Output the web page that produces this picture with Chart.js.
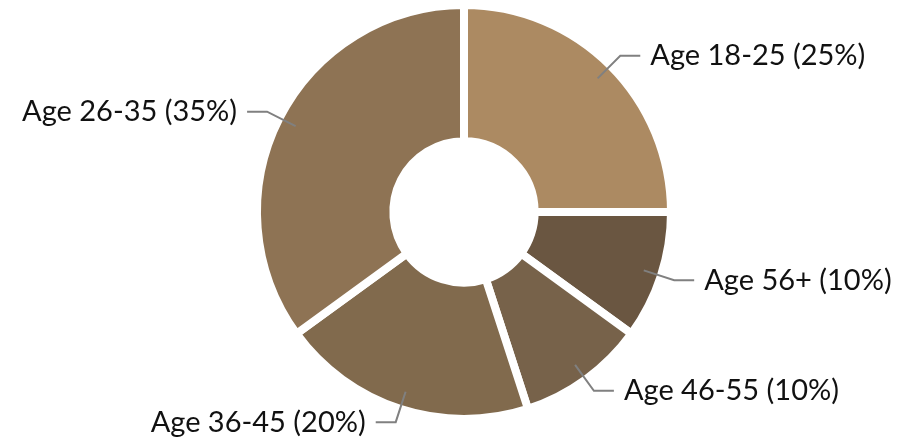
<!DOCTYPE html>
<html lang="en">

<head>
    <meta charset="UTF-8">
    <title>Age Distribution</title>
    <script src="https://cdn.jsdelivr.net/npm/chart.js"></script>
    <style>
        html, body {
            margin: 0;
            padding: 0;
            background: #ffffff;
        }

        #chart-container {
            width: 897px;
            height: 441px;
        }
    </style>
</head>

<body>
    <div id="chart-container">
        <canvas id="ageChart"></canvas>
    </div>

    <script>
        // Data
        const ageGroups = ['Age 18-25', 'Age 56+', 'Age 46-55', 'Age 36-45', 'Age 26-35'];
        const shares = [25, 10, 10, 20, 35];
        const sliceColors = ['#ac8a62', '#6a5641', '#77624a', '#816a4d', '#8e7354'];

        // Draws the leader lines and labels outside the ring
        const outsideLabels = {
            id: 'outsideLabels',
            afterDatasetsDraw(chart) {
                const ctx = chart.ctx;
                const meta = chart.getDatasetMeta(0);
                ctx.save();
                ctx.font = '29px Lato';
                ctx.textBaseline = 'middle';
                meta.data.forEach((arc, i) => {
                    const { x, y, startAngle, endAngle, outerRadius } = arc.getProps(['x', 'y', 'startAngle', 'endAngle', 'outerRadius'], true);
                    const mid = (startAngle + endAngle) / 2;
                    const cos = Math.cos(mid);
                    const sin = Math.sin(mid);
                    const x1 = x + cos * (outerRadius - 18);
                    const y1 = y + sin * (outerRadius - 18);
                    const x2 = x + cos * (outerRadius + 14);
                    const y2 = y + sin * (outerRadius + 14);
                    const side = cos >= 0 ? 1 : -1;
                    const x3 = x2 + side * 20;

                    ctx.strokeStyle = '#808080';
                    ctx.lineWidth = 2;
                    ctx.beginPath();
                    ctx.moveTo(x1, y1);
                    ctx.lineTo(x2, y2);
                    ctx.lineTo(x3, y2);
                    ctx.stroke();

                    ctx.fillStyle = '#111111';
                    ctx.textAlign = side > 0 ? 'left' : 'right';
                    ctx.fillText(`${ageGroups[i]} (${shares[i]}%)`, x3 + side * 10, y2);
                });
                ctx.restore();
            }
        };

        const ctx = document.getElementById('ageChart').getContext('2d');

        new Chart(ctx, {
            type: 'doughnut',
            data: {
                labels: ageGroups,
                datasets: [{
                    data: shares,
                    backgroundColor: sliceColors,
                    borderColor: '#ffffff',
                    borderWidth: 8,
                    hoverBorderWidth: 8,
                    borderJoinStyle: 'miter'
                }]
            },
            options: {
                responsive: true,
                maintainAspectRatio: false,
                animation: false,
                radius: 207,
                cutout: 71,
                layout: {
                    padding: { left: 31, right: 0, top: 0, bottom: 17 }
                },
                plugins: {
                    legend: { display: false },
                    tooltip: { enabled: false }
                }
            },
            plugins: [outsideLabels]
        });
    </script>
</body>

</html>
